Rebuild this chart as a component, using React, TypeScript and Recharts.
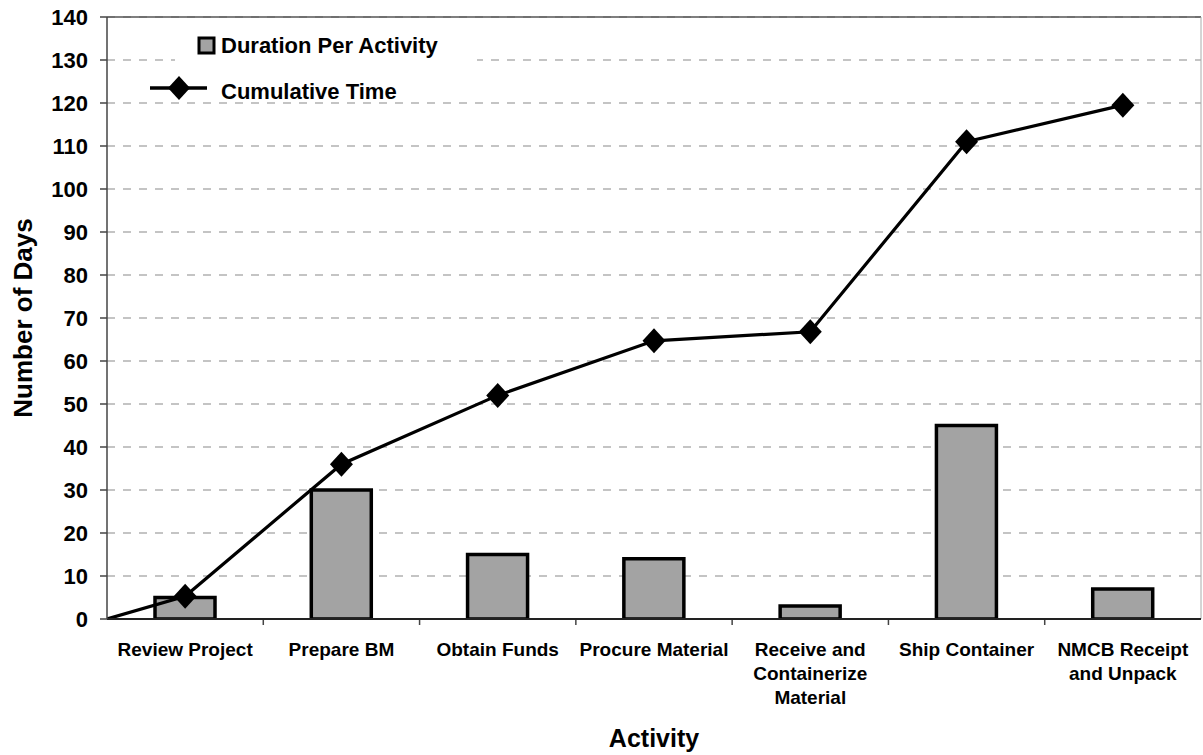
import {
  ComposedChart,
  Bar,
  Line,
  XAxis,
  YAxis,
  CartesianGrid,
  ReferenceLine,
  Legend,
} from "recharts";

const categories = [
  "Review Project",
  "Prepare BM",
  "Obtain Funds",
  "Procure Material",
  "Receive and Containerize Material",
  "Ship Container",
  "NMCB Receipt and Unpack",
];

const tickLines = [
  ["Review Project"],
  ["Prepare BM"],
  ["Obtain Funds"],
  ["Procure Material"],
  ["Receive and", "Containerize", "Material"],
  ["Ship Container"],
  ["NMCB Receipt", "and Unpack"],
];

const duration = [5, 30, 15, 14, 3, 45, 7];
const cumulative = [5.3, 36, 52, 64.7, 66.8, 111, 119.5];

const yTicks = [0, 10, 20, 30, 40, 50, 60, 70, 80, 90, 100, 110, 120, 130, 140];
const edgeTicks = [0, 1, 2, 3, 4, 5, 6, 7];

const FONT = "'Liberation Sans', Arial, Helvetica, sans-serif";

const barData = categories.map((name, i) => ({ name, duration: duration[i] }));
// line starts at the origin, then one point per activity centre
const lineData = [
  { pos: 0, cum: 0 },
  ...categories.map((_, i) => ({ pos: i + 0.5, cum: cumulative[i] })),
];

function Diamond({ cx, cy }: { cx: number; cy: number }) {
  return (
    <path
      d={`M${cx},${cy - 12.5} L${cx + 11.5},${cy} L${cx},${cy + 12.5} L${cx - 11.5},${cy} Z`}
      fill="#000"
    />
  );
}

function CategoryTick(props: any) {
  const { x, y, index } = props;
  const lines = tickLines[index] || [];
  return (
    <text
      x={x}
      y={y + 37}
      textAnchor="middle"
      fontFamily={FONT}
      fontWeight="bold"
      fontSize={19}
      fill="#000"
    >
      {lines.map((l, i) => (
        <tspan key={i} x={x} dy={i === 0 ? 0 : 24}>
          {l}
        </tspan>
      ))}
    </text>
  );
}

function LegendBox() {
  return (
    <svg width={340} height={80} style={{ display: "block" }}>
      <rect x={30} y={0} width={302} height={78} fill="#fff" />
      <rect x={54} y={14} width={15} height={15} fill="#a3a3a3" stroke="#000" strokeWidth={3} />
      <text x={76} y={29} fontFamily={FONT} fontWeight="bold" fontSize={22} fill="#000">
        Duration Per Activity
      </text>
      <line x1={5} y1={64} x2={62} y2={64} stroke="#000" strokeWidth={3.5} />
      <path d="M34,52 L45,64 L34,76 L23,64 Z" fill="#000" />
      <text x={76} y={75} fontFamily={FONT} fontWeight="bold" fontSize={22} fill="#000">
        Cumulative Time
      </text>
    </svg>
  );
}

export default function App() {
  return (
    <div style={{ position: "absolute", left: 0, top: 0, background: "#fff" }}>
      <ComposedChart
        width={1203}
        height={755}
        data={barData}
        margin={{ top: 17, right: 2, bottom: 0, left: 0 }}
        barCategoryGap="30%"
      >
        <CartesianGrid
          xAxisId="cat"
          vertical={false}
          stroke="#8a8a8a"
          strokeDasharray="8 8"
          strokeWidth={1.2}
        />
        <XAxis
          xAxisId="num"
          type="number"
          dataKey="pos"
          domain={[0, 7]}
          height={0}
          hide
          allowDataOverflow
        />
        <XAxis
          xAxisId="cat"
          dataKey="name"
          height={136}
          tick={<CategoryTick />}
          tickLine={false}
          tickSize={0}
          tickMargin={0}
          interval={0}
          axisLine={{ stroke: "#222", strokeWidth: 2 }}
          label={{
            content: (p: any) => {
              const vb = p.viewBox;
              return (
                <text
                  x={vb.x + vb.width / 2}
                  y={vb.y + 128}
                  textAnchor="middle"
                  fontFamily={FONT}
                  fontWeight="bold"
                  fontSize={25}
                  fill="#000"
                >
                  Activity
                </text>
              );
            },
          }}
        />
        <YAxis
          width={107}
          domain={[0, 140]}
          ticks={yTicks}
          interval={0}
          tickSize={7}
          tickMargin={12}
          allowDataOverflow
          tick={{ fontFamily: FONT, fontWeight: "bold", fontSize: 22, fill: "#000" }}
          tickLine={{ stroke: "#444", strokeWidth: 1.5 }}
          axisLine={{ stroke: "#444", strokeWidth: 1.5 }}
          label={{
            content: (p: any) => {
              const vb = p.viewBox;
              const cx = 23;
              const cy = vb.y + vb.height / 2;
              return (
                <text
                  x={cx}
                  y={cy}
                  transform={`rotate(-90, ${cx}, ${cy})`}
                  textAnchor="middle"
                  dominantBaseline="central"
                  fontFamily={FONT}
                  fontWeight="bold"
                  fontSize={26}
                  fill="#000"
                >
                  Number of Days
                </text>
              );
            },
          }}
        />
        <ReferenceLine xAxisId="cat" y={140} stroke="#555" strokeWidth={1.5} />
        <ReferenceLine xAxisId="num" x={7} stroke="#aaa" strokeWidth={1} />
        {edgeTicks.slice(1, 7).map((b) => (
          <ReferenceLine
            key={`edge${b}`}
            xAxisId="num"
            segment={[
              { x: b, y: 0 },
              { x: b, y: -1.4 },
            ]}
            ifOverflow="visible"
            stroke="#444"
            strokeWidth={1.5}
          />
        ))}
        <Legend
          layout="horizontal"
          verticalAlign="middle"
          align="center"
          wrapperStyle={{ left: 145, top: 24, width: 340, height: 80 }}
          content={() => <LegendBox />}
        />
        <Bar
          xAxisId="cat"
          dataKey="duration"
          name="Duration Per Activity"
          fill="#a3a3a3"
          stroke="#000"
          strokeWidth={3.5}
          barSize={60}
          isAnimationActive={false}
        />
        <Line
          xAxisId="num"
          data={lineData}
          dataKey="cum"
          name="Cumulative Time"
          type="linear"
          stroke="#000"
          strokeWidth={3.2}
          dot={(p: any) =>
            p.index === 0 ? (
              <g key={p.key ?? `d${p.index}`} />
            ) : (
              <Diamond key={p.key ?? `d${p.index}`} cx={p.cx} cy={p.cy} />
            )
          }
          activeDot={false}
          isAnimationActive={false}
        />
      </ComposedChart>
    </div>
  );
}
